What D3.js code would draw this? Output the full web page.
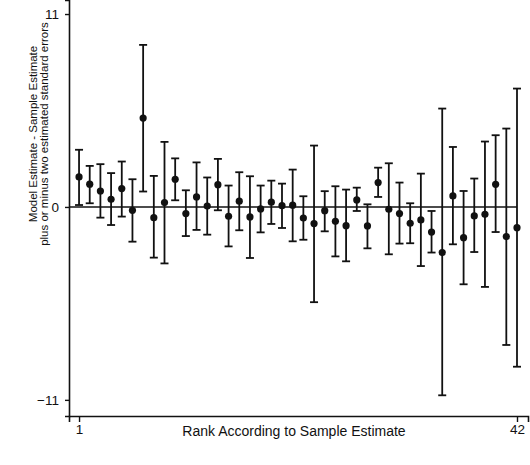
<!DOCTYPE html>
<html>
<head>
<meta charset="utf-8">
<script src="https://cdn.jsdelivr.net/npm/d3@7"></script>
<style>
  body { margin: 0; background: #fff; }
  text { font-family: "Liberation Sans", Arial, sans-serif; fill: #111; }
</style>
</head>
<body>
<script>
// rank 1..42 according to sample estimate
var ranks = d3.range(1, 43)

// model estimate - sample estimate
var estimates = [1.71, 1.30, 0.91, 0.44, 1.05, -0.19, 5.07, -0.61, 0.25, 1.58,
                 -0.38, 0.57, 0.05, 1.27, -0.53, 0.33, -0.57, -0.11, 0.27, 0.07,
                 0.10, -0.63, -0.95, -0.21, -0.82, -1.07, 0.40, -1.08, 1.39, -0.13,
                 -0.38, -0.93, -0.74, -1.43, -2.60, 0.63, -1.75, -0.51, -0.42, 1.29,
                 -1.69, -1.18]

// minus two standard errors
var lower = [0.11, 0.21, -0.61, -1.03, -0.55, -1.98, 0.88, -2.89, -3.22, 0.38,
             -1.66, -1.31, -1.58, -0.19, -2.25, -1.33, -2.91, -1.45, -0.97, -1.20,
             -1.96, -1.87, -5.43, -1.39, -2.82, -3.10, -0.23, -2.36, 0.57, -2.70,
             -2.09, -2.07, -3.37, -2.60, -10.74, -2.13, -4.41, -2.57, -4.56, -1.43,
             -7.87, -9.11]

// plus two standard errors
var upper = [3.26, 2.34, 2.44, 1.93, 2.59, 1.58, 9.24, 1.77, 3.71, 2.77,
             0.95, 2.54, 1.68, 2.74, 1.22, 1.98, 1.75, 1.22, 1.50, 1.33,
             2.13, 0.61, 3.50, 0.90, 1.18, 0.99, 1.10, 0.15, 2.24, 2.49,
             1.39, 0.21, 1.90, -0.23, 5.61, 3.42, 0.91, 1.62, 3.73, 4.09,
             4.47, 6.75]

var yTicks = [-11, 0, 11]
var xTicks = [1, 42]

var width = 530
var height = 465

var svg = d3.select("body").append("svg")
    .attr("width", width)
    .attr("height", height)

// the axes run a little past the first and last tick
var x = d3.scaleLinear().domain([0.06, 43.03]).range([69, 528])
var y = d3.scaleLinear().domain([-11.92, 11.8]).range([416, 0])

var data = ranks.map(function(r, i){
    return {rank: r, est: estimates[i], lo: lower[i], hi: upper[i]}
})

// horizontal line at zero
svg.append("line")
    .attr("x1", x.range()[0])
    .attr("x2", x(42))
    .attr("y1", y(0))
    .attr("y2", y(0))
    .attr("stroke", "#111")
    .attr("stroke-width", 1.6)

// error bars
var bars = svg.append("g")
    .selectAll("g")
    .data(data)
    .enter()
    .append("g")
    .attr("stroke", "#111")
    .attr("stroke-width", 1.8)

bars.append("line")
    .attr("x1", function(d){ return x(d.rank) })
    .attr("x2", function(d){ return x(d.rank) })
    .attr("y1", function(d){ return y(d.lo) })
    .attr("y2", function(d){ return y(d.hi) })

bars.append("line")
    .attr("x1", function(d){ return x(d.rank) - 4 })
    .attr("x2", function(d){ return x(d.rank) + 4 })
    .attr("y1", function(d){ return y(d.hi) })
    .attr("y2", function(d){ return y(d.hi) })

bars.append("line")
    .attr("x1", function(d){ return x(d.rank) - 4 })
    .attr("x2", function(d){ return x(d.rank) + 4 })
    .attr("y1", function(d){ return y(d.lo) })
    .attr("y2", function(d){ return y(d.lo) })

// points
svg.append("g")
    .selectAll("circle")
    .data(data)
    .enter()
    .append("circle")
    .attr("cx", function(d){ return x(d.rank) })
    .attr("cy", function(d){ return y(d.est) })
    .attr("r", 3.6)
    .attr("fill", "#111")

// axes
svg.append("g")
    .attr("transform", "translate(0," + y.range()[0] + ")")
    .call(d3.axisBottom(x).tickValues(xTicks).tickSizeOuter(0).tickSize(6).tickPadding(2))

svg.append("g")
    .attr("transform", "translate(" + x.range()[0] + ",0)")
    .call(d3.axisLeft(y).tickValues(yTicks).tickSizeOuter(0).tickSize(4).tickPadding(6))

svg.selectAll(".domain").attr("stroke", "#111").attr("stroke-width", 1.6)
svg.selectAll(".tick line").attr("stroke", "#111").attr("stroke-width", 1.4)
svg.selectAll(".tick text").style("font-size", "13.5px").attr("fill", "#111")

// axis titles
svg.append("text")
    .attr("x", 294)
    .attr("y", 436)
    .attr("text-anchor", "middle")
    .style("font-size", "14px")
    .text("Rank According to Sample Estimate")

var yTitle = svg.append("text")
    .attr("transform", "translate(37,134) rotate(-90)")
    .attr("text-anchor", "middle")
    .style("font-size", "11.5px")

yTitle.append("tspan")
    .attr("x", 0)
    .attr("y", 0)
    .text("Model Estimate - Sample Estimate")

yTitle.append("tspan")
    .attr("x", 0)
    .attr("y", 11)
    .text("plus or minus two estimated standard errors")
</script>
</body>
</html>
